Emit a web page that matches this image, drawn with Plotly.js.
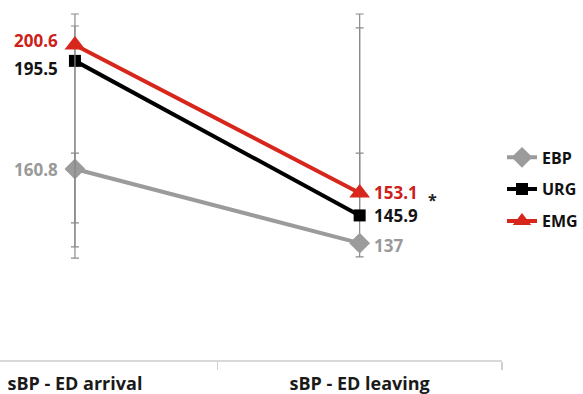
<!DOCTYPE html>
<html>
<head>
<meta charset="utf-8">
<script src="https://cdn.plot.ly/plotly-3.0.1.min.js"></script>
<style>html,body{margin:0;padding:0;background:#fff;}#chart{width:583px;height:394px;}</style>
</head>
<body>
<div id="chart"></div>
<script>
// Data
const categories = ["sBP - ED arrival", "sBP - ED leaving"];
const seriesNames = ["EBP", "URG", "EMG"];
const ebpValues = [160.8, 137];
const urgValues = [195.5, 145.9];
const emgValues = [200.6, 153.1];
// error bars (upper / lower extents)
const ebpErrPlus = [5.1, 28.9];
const ebpErrMinus = [17.3, 4.4];
const urgErrPlus = [11.2, 60.2];
const urgErrMinus = [59.7, 0];
const emgErrPlus = [9.95, 57.45];
const emgErrMinus = [68.4, 0];
const significance = "*";

const xIdx = categories.map((c, i) => i);
const font = "'Open Sans', 'Liberation Sans', sans-serif";

const styles = {
  EBP: {color: "#9b9b9b", text: "#999999", symbol: "diamond", size: 16, yshiftL: 0, yshiftR: -2},
  URG: {color: "#000000", text: "#141414", symbol: "square", size: 12, yshiftL: -8, yshiftR: 0},
  EMG: {color: "#d7261c", text: "#cc2119", symbol: "triangle-up", size: 18, yshiftL: 4, yshiftR: 0}
};
const values = {EBP: ebpValues, URG: urgValues, EMG: emgValues};
const errP = {EBP: ebpErrPlus, URG: urgErrPlus, EMG: emgErrPlus};
const errM = {EBP: ebpErrMinus, URG: urgErrMinus, EMG: emgErrMinus};

const traces = seriesNames.map(name => ({
  type: "scatter",
  mode: "lines+markers",
  name: name,
  legendgroup: name,
  x: xIdx,
  y: values[name],
  line: {color: styles[name].color, width: 4},
  marker: {color: styles[name].color, symbol: styles[name].symbol, size: styles[name].size},
  error_y: {type: "data", symmetric: false, array: errP[name], arrayminus: errM[name],
            color: "#8c8c8c", thickness: 1.2, width: 4},
  cliponaxis: false
}));

const annotations = [];
seriesNames.forEach(name => {
  values[name].forEach((v, i) => {
    annotations.push({
      x: xIdx[i], y: v, xref: "x", yref: "y",
      text: String(v), showarrow: false,
      xanchor: i === 0 ? "right" : "left",
      xshift: i === 0 ? -15 : 12,
      yshift: i === 0 ? styles[name].yshiftL : styles[name].yshiftR,
      font: {family: font, size: 17, color: styles[name].text, weight: 700}
    });
  });
});
annotations.push({
  x: 1.256, y: 151.0, xref: "x", yref: "y", text: significance, showarrow: false,
  font: {family: font, size: 16, color: "#222", weight: 700}
});

const layout = {
  width: 583, height: 394,
  margin: {l: 0, r: 80.5, t: 0, b: 34},
  paper_bgcolor: "#fff", plot_bgcolor: "#fff",
  showlegend: true,
  legend: {x: 1.0, xanchor: "left", y: 0.61, yanchor: "top",
           font: {family: font, size: 16, color: "#111", weight: 700},
           tracegroupgap: 8, bgcolor: "rgba(0,0,0,0)"},
  xaxis: {
    range: [-0.2632, 1.5], tickmode: "array", tickvals: xIdx, ticktext: categories,
    ticks: "", showgrid: false, zeroline: false,
    showline: true, linecolor: "#d9d9d9", linewidth: 1.5,
    tickfont: {family: font, size: 18, color: "#1a1a1a", weight: 700},
    ticklabelstandoff: 7,
    minor: {tickmode: "linear", tick0: 0.5, dtick: 1, ticks: "outside", ticklen: 8, tickcolor: "#d0d0d0", tickwidth: 1.5, showgrid: false},
    fixedrange: true
  },
  yaxis: {
    range: [99.5, 215.04], showgrid: false, zeroline: false, showline: false,
    showticklabels: false, ticks: "", fixedrange: true
  },
  annotations: annotations
};

Plotly.newPlot("chart", traces, layout, {staticPlot: true, displayModeBar: false});
</script>
</body>
</html>
